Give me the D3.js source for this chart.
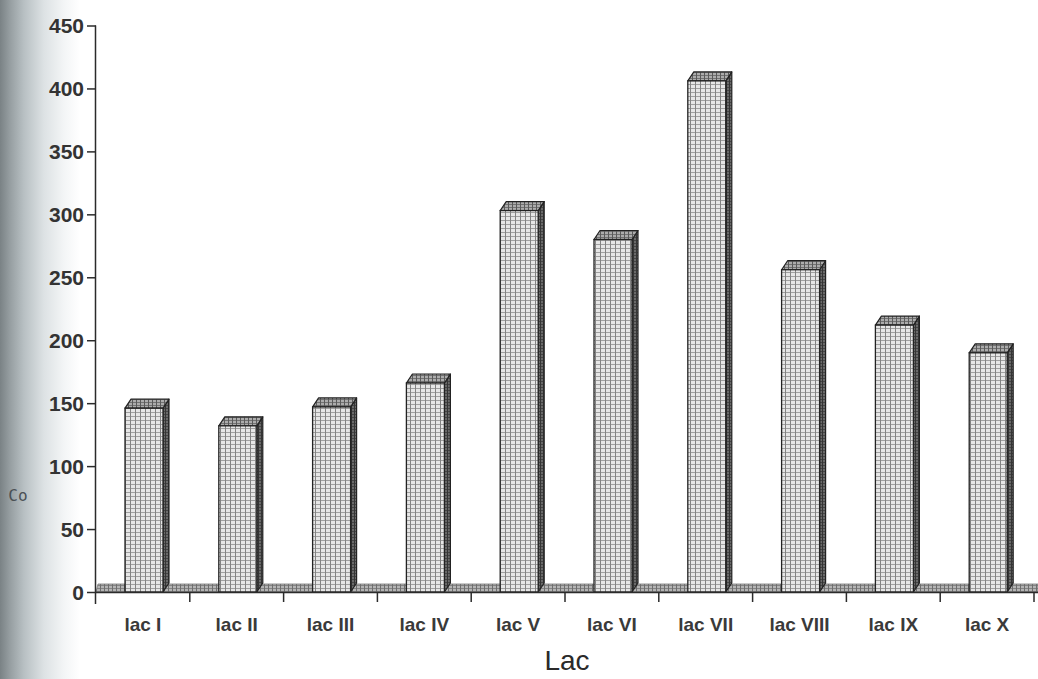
<!DOCTYPE html>
<html>
<head>
<meta charset="utf-8">
<script src="https://cdn.jsdelivr.net/npm/d3@7/dist/d3.min.js"></script>
<style>
  html, body { margin: 0; padding: 0; background: #fff; }
  svg { display: block; }
</style>
</head>
<body>
<svg id="chart" width="1038" height="679"></svg>
<script>
// Cobalt content per lake
const categories = ["lac I", "lac II", "lac III", "lac IV", "lac V", "lac VI", "lac VII", "lac VIII", "lac IX", "lac X"];
const coValues = [146, 132, 147, 166, 303, 280, 406, 256, 212, 190];
const yTicks = [0, 50, 100, 150, 200, 250, 300, 350, 400, 450];
const xTitle = "Lac";
const yTitle = "Co";

const svg = d3.select("#chart");
const W = 1038, H = 679;

const axisX0 = 96, axisX1 = 1034;
const y0 = 592, yTop = 25.5;

const x = d3.scaleBand().domain(categories).range([axisX0, axisX1]).paddingInner(0).paddingOuter(0);
const y = d3.scaleLinear().domain([0, 450]).range([y0, yTop]);

const defs = svg.append("defs");

// shading at the left edge of the sheet
const grad = defs.append("linearGradient").attr("id", "edgeShade")
  .attr("x1", "0").attr("x2", "1").attr("y1", "0").attr("y2", "0");
grad.append("stop").attr("offset", "0").attr("stop-color", "#7a8285");
grad.append("stop").attr("offset", "0.12").attr("stop-color", "#959da0");
grad.append("stop").attr("offset", "0.3").attr("stop-color", "#b8c0c3");
grad.append("stop").attr("offset", "0.55").attr("stop-color", "#dde2e4");
grad.append("stop").attr("offset", "0.8").attr("stop-color", "#f3f5f6");
grad.append("stop").attr("offset", "1").attr("stop-color", "#ffffff");

// stipple fills for the 3D faces
function gridPattern(id, bg, line, sx, sy) {
  const p = defs.append("pattern").attr("id", id)
    .attr("patternUnits", "userSpaceOnUse").attr("width", sx).attr("height", sy);
  p.append("rect").attr("width", sx).attr("height", sy).attr("fill", bg);
  p.append("rect").attr("x", 0).attr("y", 0).attr("width", 1).attr("height", sy).attr("fill", line);
  p.append("rect").attr("x", 0).attr("y", 0).attr("width", sx).attr("height", 1).attr("fill", line).attr("opacity", 0.7);
}
gridPattern("frontFill", "#e6e6e6", "#828282", 5, 4);
gridPattern("sideFill", "#6a6a6a", "#353535", 3, 3);
gridPattern("topFill", "#acacac", "#5a5a5a", 4, 3);
gridPattern("floorFill", "#b4b4b4", "#6e6e6e", 4, 3);

svg.append("rect").attr("x", 0).attr("y", 0).attr("width", 80).attr("height", H)
  .attr("fill", "url(#edgeShade)");

const dx = 6, dy = 9;
const barW = 38, barOff = 29;

// floor strip
svg.append("polygon")
  .attr("points", [[axisX0, y0], [W, y0], [W, y0 - dy + 1], [axisX0 + 2, y0 - dy + 1]].map(p => p.join(",")).join(" "))
  .attr("fill", "url(#floorFill)")
  .attr("stroke", "#7a7a7a").attr("stroke-width", 0.8);

// bars
const bars = svg.append("g").selectAll("g").data(categories.map((c, i) => ({ c, v: coValues[i] })))
  .join("g");

bars.each(function(d) {
  const g = d3.select(this);
  const xl = x(d.c) + barOff, xr = xl + barW, yt = y(d.v);
  g.append("polygon")
    .attr("points", [[xr, yt], [xr + dx, yt - dy], [xr + dx, y0 - dy], [xr, y0]].map(p => p.join(",")).join(" "))
    .attr("fill", "url(#sideFill)").attr("stroke", "#222").attr("stroke-width", 1.2).attr("stroke-linejoin", "round");
  g.append("polygon")
    .attr("points", [[xl, yt], [xl + dx, yt - dy], [xr + dx, yt - dy], [xr, yt]].map(p => p.join(",")).join(" "))
    .attr("fill", "url(#topFill)").attr("stroke", "#222").attr("stroke-width", 1.2).attr("stroke-linejoin", "round");
  g.append("rect")
    .attr("x", xl).attr("y", yt).attr("width", barW).attr("height", y0 - yt)
    .attr("fill", "url(#frontFill)").attr("stroke", "#222").attr("stroke-width", 1.3);
});

// axes
const axisColor = "#2b2b2b";
const yAxis = svg.append("g").attr("transform", `translate(${axisX0},0)`)
  .call(d3.axisLeft(y).tickValues(yTicks).tickSize(9).tickPadding(3).tickFormat(d3.format("d")));
yAxis.select(".domain").attr("d", `M-0.5,${yTop}V${y0 + 12}`).attr("stroke", axisColor).attr("stroke-width", 1.5);
yAxis.selectAll(".tick line").attr("stroke", axisColor).attr("stroke-width", 1.5);
yAxis.selectAll(".tick text")
  .attr("fill", "#333").attr("font-family", "Liberation Sans, Arial, sans-serif")
  .attr("font-size", 21).attr("font-weight", "bold").attr("dy", "0.34em");

const xAxis = svg.append("g").attr("transform", `translate(0,${y0})`)
  .call(d3.axisBottom(x).tickSize(0).tickPadding(26));
xAxis.select(".domain").attr("d", `M${axisX0},0.5H${W}`).attr("stroke", axisColor).attr("stroke-width", 1.6);
xAxis.selectAll(".tick text")
  .attr("fill", "#3a3a3a").attr("font-family", "Liberation Sans, Arial, sans-serif")
  .attr("font-size", 19).attr("font-weight", "bold");

// category separators below the axis
svg.append("g").selectAll("line").data(categories)
  .join("line")
  .attr("x1", d => x(d) + x.bandwidth())
  .attr("x2", d => x(d) + x.bandwidth())
  .attr("y1", y0).attr("y2", y0 + 10)
  .attr("stroke", axisColor).attr("stroke-width", 1.5);

// titles
svg.append("text").attr("x", 567).attr("y", 670).attr("text-anchor", "middle")
  .attr("font-family", "Liberation Sans, Arial, sans-serif").attr("font-size", 28)
  .attr("fill", "#2a2a2a").text(xTitle);

svg.append("text").attr("x", 18).attr("y", 501).attr("text-anchor", "middle")
  .attr("font-family", "DejaVu Sans Mono, monospace").attr("font-size", 16)
  .attr("fill", "#4a5054").text(yTitle);
</script>
</body>
</html>
